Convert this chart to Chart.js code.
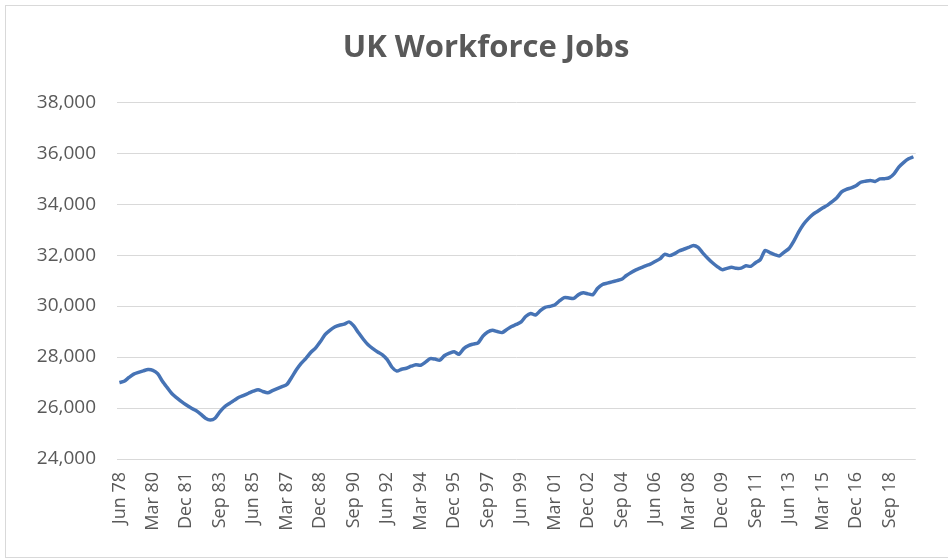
<!DOCTYPE html>
<html>
<head>
  <title>UK Workforce Jobs</title>
  <script src="https://cdn.jsdelivr.net/npm/chart.js"></script>
  <style>
    html, body { margin: 0; padding: 0; background: #fff; overflow: hidden; }
    #wrap { position: relative; width: 948px; height: 560px; }
    #frame { position: absolute; left: 5px; top: 5px; width: 960px; height: 551px;
             border: 1px solid #d9d9d9; pointer-events: none; }
  </style>
</head>
<body>
<div id="wrap">
  <canvas id="jobs-chart" width="948" height="560"></canvas>
  <div id="frame"></div>
</div>
<script>
// workforce jobs, thousands, quarterly from Jun 1978
var jobs = [
  27000, 27050, 27200, 27330, 27400, 27460, 27510, 27480, 27350, 27050,
  26800, 26560, 26400, 26250, 26120, 26000, 25900, 25760, 25600, 25530,
  25600, 25850, 26050, 26180, 26300, 26420, 26500, 26580, 26660, 26720,
  26650, 26600, 26680, 26760, 26840, 26920, 27200, 27500, 27750, 27950,
  28180, 28350, 28600, 28880, 29050, 29180, 29250, 29290, 29380, 29220,
  28950, 28700, 28480, 28330, 28200, 28090, 27900, 27600, 27450, 27520,
  27560, 27640, 27700, 27680, 27800, 27940, 27920, 27880, 28060, 28150,
  28210, 28110, 28330, 28450, 28510, 28560, 28820, 28980, 29050, 29000,
  28960, 29080, 29200, 29280, 29380, 29600, 29710, 29650, 29820, 29950,
  29990, 30040, 30200, 30330, 30320, 30300, 30450, 30520, 30480, 30450,
  30700, 30850, 30900, 30950, 31000, 31050, 31200, 31320, 31420, 31500,
  31580, 31650, 31750, 31850, 32030, 31980, 32050, 32160, 32230, 32300,
  32380, 32300, 32080, 31880, 31700, 31550, 31430, 31480, 31520, 31480,
  31490, 31580, 31560, 31700, 31820, 32180, 32100, 32020, 31970, 32120,
  32260, 32550, 32900, 33200, 33420, 33600, 33720, 33850, 33950, 34100,
  34250, 34480, 34580, 34640, 34720, 34860, 34900, 34930, 34890, 34990,
  35000, 35040, 35200, 35460, 35640, 35780, 35860
];

var quarterMonths = ['Mar', 'Jun', 'Sep', 'Dec'];
var firstYear = 1978;
var labelEvery = 7;

// y axis range
var yMin = 24000;
var yMax = 38000;
var yStep = 2000;

// quarter names, starting at Jun 78
var quarters = [];
for (var k = 0; k < jobs.length; k++) {
  var q = (1 + k) % 4;
  var yr = firstYear + Math.floor((1 + k) / 4);
  quarters.push(quarterMonths[q] + ' ' + String(yr % 100).padStart(2, '0'));
}

Chart.defaults.font.family = "'Open Sans', 'DejaVu Sans', sans-serif";
Chart.defaults.color = '#595959';

var ctx = document.getElementById('jobs-chart').getContext('2d');
var chart = new Chart(ctx, {
  type: 'line',
  data: {
    labels: quarters,
    datasets: [{
      label: 'Workforce jobs',
      data: jobs,
      borderColor: '#4673b5',
      borderWidth: 3.5,
      pointRadius: 0,
      tension: 0.25,
      fill: false
    }]
  },
  options: {
    responsive: false,
    animation: false,
    // left padding pushes the title centre right; y axis width makes up the rest
    layout: { padding: { left: 37, right: 13, top: 0, bottom: 0 } },
    plugins: {
      legend: { display: false },
      tooltip: { enabled: false },
      title: {
        display: true,
        text: 'UK Workforce Jobs',
        color: '#595959',
        font: { size: 31, weight: 'bold' },
        padding: { top: 30, bottom: 35 }
      }
    },
    scales: {
      x: {
        offset: true,
        grid: { display: false, drawTicks: false },
        border: { display: false },
        ticks: {
          autoSkip: false,
          minRotation: 90,
          maxRotation: 90,
          padding: 13,
          font: { size: 18 },
          callback: function(val, idx) {
            return idx % labelEvery === 0 ? this.getLabelForValue(val) : '';
          }
        },
        afterFit: function(scale) { scale.height = 101; }
      },
      y: {
        min: yMin,
        max: yMax,
        grid: { color: '#d9d9d9', lineWidth: 1, drawTicks: false },
        border: { display: false },
        ticks: {
          stepSize: yStep,
          padding: 21,
          font: { size: 19 },
          callback: function(v) { return v.toLocaleString('en-US'); }
        },
        afterFit: function(scale) { scale.width = 80; }
      }
    }
  }
});
</script>
</body>
</html>
